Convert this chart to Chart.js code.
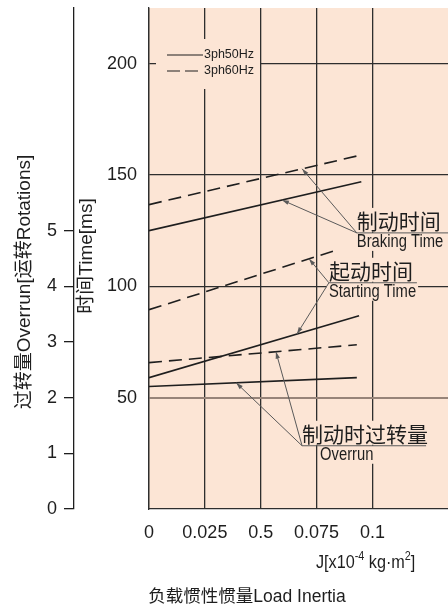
<!DOCTYPE html>
<html>
<head>
<meta charset="utf-8">
<script src="https://cdn.jsdelivr.net/npm/chart.js@4.4.1/dist/chart.umd.min.js"></script>
<style>
  html, body { margin: 0; padding: 0; background: #fff; }
  canvas { display: block; }
</style>
</head>
<body>
<canvas id="inertiaChart" width="448" height="605"></canvas>
<script>
// Load inertia J [x10^-4 kg·m²] and curve values
const brakingJ = [0, 0.095];
const braking50Hz = [125, 147];       // ms
const braking60Hz = [136.7, 159];     // ms
const starting50J = [0, 0.094];
const starting50Hz = [59, 86.8];      // ms
const starting60J = [0, 0.083];
const starting60Hz = [89.5, 116];     // ms
const overrunJ = [0, 0.093];
const overrun50Hz = [2.2, 2.36];      // rotations
const overrun60Hz = [2.63, 2.95];     // rotations

// Tick values and labels (the 0.05 tick is printed as "0.5" on the original)
const xTicks = [0, 0.025, 0.05, 0.075, 0.1];
const xTickLabels = ['0', '0.025', '0.5', '0.075', '0.1'];
const timeTicks = [50, 100, 150, 200];
const overrunTicks = [0, 1, 2, 3, 4, 5];

const INK = '#1e1e1e';
const GRID = '#2e2e2e';
const PEACH = '#fce5d5';
const LEADER = '#5a5a5a';
const SANS = '"Liberation Sans", Arial, "Noto Sans CJK SC", sans-serif';
const CJK = '"Noto Sans CJK SC", "Liberation Sans", sans-serif';

Chart.defaults.font.family = SANS;
Chart.defaults.color = INK;

const pts = (xs, ys) => xs.map((x, i) => ({ x: x, y: ys[i] }));

function series(label, xs, ys, axis, dashed) {
    return {
        label: label,
        data: pts(xs, ys),
        yAxisID: axis,
        borderColor: INK,
        borderWidth: 1.6,
        borderDash: dashed ? [13, 7] : [],
        pointRadius: 0,
        fill: false,
        tension: 0
    };
}

// Callouts: label anchor (J, ms) and the curves their leaders point at
const callouts = [
    { zh: '制动时间', en: 'Braking Time', at: [0.093, 124], rule: 92, enDx: 0,
      targets: [[brakingJ, braking60Hz, 'time', 0.0685], [brakingJ, braking50Hz, 'time', 0.0595]] },
    { zh: '起动时间', en: 'Starting Time', at: [0.0805, 101.6], rule: 88, enDx: 0,
      targets: [[starting60J, starting60Hz, 'time', 0.0716], [starting50J, starting50Hz, 'time', 0.0662]] },
    { zh: '制动时过转量', en: 'Overrun', at: [0.0685, 28.4], rule: 124, enDx: 18,
      targets: [[overrunJ, overrun60Hz, 'overrun', 0.0568], [overrunJ, overrun50Hz, 'overrun', 0.039]] }
];

function yOnSeries(xs, ys, j) {
    const t = (j - xs[0]) / (xs[1] - xs[0]);
    return ys[0] + t * (ys[1] - ys[0]);
}

function arrow(ctx, x0, y0, x1, y1) {
    ctx.beginPath();
    ctx.moveTo(x0, y0);
    ctx.lineTo(x1, y1);
    ctx.stroke();
    const a = Math.atan2(y1 - y0, x1 - x0), L = 7, W = 2.2;
    ctx.beginPath();
    ctx.moveTo(x1, y1);
    ctx.lineTo(x1 - L * Math.cos(a) + W * Math.sin(a), y1 - L * Math.sin(a) - W * Math.cos(a));
    ctx.lineTo(x1 - L * Math.cos(a) - W * Math.sin(a), y1 - L * Math.sin(a) + W * Math.cos(a));
    ctx.closePath();
    ctx.fill();
}

// text on a peach patch that hides the grid behind it; sx squeezes it horizontally
function maskedText(ctx, text, x, y, baseline, h, sx) {
    ctx.textBaseline = baseline;
    const w = ctx.measureText(text).width * sx;
    const top = baseline === 'bottom' ? y - h : y;
    ctx.fillStyle = PEACH;
    ctx.fillRect(x - 2, top, w + 4, h);
    ctx.fillStyle = INK;
    ctx.save();
    ctx.translate(x, y);
    ctx.scale(sx, 1);
    ctx.fillText(text, 0, 0);
    ctx.restore();
}

function rotatedText(ctx, text, x, y) {
    ctx.save();
    ctx.translate(x, y);
    ctx.rotate(-Math.PI / 2);
    ctx.textAlign = 'center';
    ctx.textBaseline = 'middle';
    ctx.fillText(text, 0, 0);
    ctx.restore();
}

const plotBackground = {
    id: 'plotBackground',
    beforeDraw(chart) {
        const { ctx, chartArea: a } = chart;
        ctx.save();
        ctx.fillStyle = PEACH;
        ctx.fillRect(a.left, a.top, a.right - a.left, a.bottom - a.top);
        ctx.restore();
    }
};

const decorations = {
    id: 'decorations',
    afterDraw(chart) {
        const { ctx, chartArea: a, scales } = chart;
        ctx.save();

        // legend box inside the plot
        const lx = a.left + 7, ly = a.top + 31;
        ctx.fillStyle = PEACH;
        ctx.fillRect(lx, ly, 104, 50);
        ctx.strokeStyle = INK;
        ctx.lineWidth = 1.2;
        ctx.beginPath();
        ctx.moveTo(lx + 11, ly + 16);
        ctx.lineTo(lx + 47, ly + 16);
        ctx.stroke();
        ctx.setLineDash([13, 5]);
        ctx.beginPath();
        ctx.moveTo(lx + 11, ly + 32);
        ctx.lineTo(lx + 47, ly + 32);
        ctx.stroke();
        ctx.setLineDash([]);
        ctx.fillStyle = INK;
        ctx.font = '12.5px ' + SANS;
        ctx.textAlign = 'left';
        ctx.textBaseline = 'middle';
        ctx.fillText('3ph50Hz', lx + 48, ly + 16);
        ctx.fillText('3ph60Hz', lx + 48, ly + 32);

        // callouts with leader arrows
        callouts.forEach(c => {
            const ax = scales.x.getPixelForValue(c.at[0]);
            const ay = scales.time.getPixelForValue(c.at[1]);
            ctx.textAlign = 'left';
            ctx.font = '21px ' + CJK;
            maskedText(ctx, c.zh, ax, ay - 1, 'bottom', 24, 1);
            ctx.font = '18px ' + SANS;
            maskedText(ctx, c.en, ax + c.enDx, ay, 'top', 18, 0.82);
            ctx.strokeStyle = LEADER;
            ctx.lineWidth = 1;
            ctx.beginPath();
            ctx.moveTo(ax, ay);
            ctx.lineTo(ax + c.rule, ay);
            ctx.stroke();
            ctx.fillStyle = LEADER;
            c.targets.forEach(t => {
                const tx = scales.x.getPixelForValue(t[3]);
                const ty = scales[t[2]].getPixelForValue(yOnSeries(t[0], t[1], t[3]));
                arrow(ctx, ax, ay, tx, ty);
            });
        });

        // axis titles
        ctx.fillStyle = INK;
        ctx.font = '19px ' + SANS;
        rotatedText(ctx, '过转量Overrun[运转Rotations]', 25, 282);
        rotatedText(ctx, '时间Time[ms]', 87, 256);

        // x axis unit with superscripts
        ctx.textAlign = 'left';
        ctx.textBaseline = 'alphabetic';
        let x = 316;
        const base = 568;
        const parts = [['J[x10', 18, 0], ['-4', 12, -8], [' kg·m', 18, 0], ['2', 12, -8], [']', 18, 0]];
        parts.forEach(p => {
            ctx.font = p[1] + 'px ' + SANS;
            ctx.save();
            ctx.translate(x, base + p[2]);
            ctx.scale(0.9, 1);
            ctx.fillText(p[0], 0, 0);
            ctx.restore();
            x += ctx.measureText(p[0]).width * 0.9;
        });

        ctx.font = '17.5px ' + SANS;
        ctx.textAlign = 'center';
        ctx.textBaseline = 'middle';
        ctx.fillText('负载惯性惯量Load Inertia', 247, 597);
        ctx.restore();
    }
};

const ctx = document.getElementById('inertiaChart').getContext('2d');
new Chart(ctx, {
    type: 'line',
    data: {
        datasets: [
            series('Braking 3ph50Hz', brakingJ, braking50Hz, 'time', false),
            series('Braking 3ph60Hz', brakingJ, braking60Hz, 'time', true),
            series('Starting 3ph50Hz', starting50J, starting50Hz, 'time', false),
            series('Starting 3ph60Hz', starting60J, starting60Hz, 'time', true),
            series('Overrun 3ph50Hz', overrunJ, overrun50Hz, 'overrun', false),
            series('Overrun 3ph60Hz', overrunJ, overrun60Hz, 'overrun', true)
        ]
    },
    options: {
        responsive: false,
        animation: false,
        layout: { padding: { top: 8, right: 0, bottom: 0, left: 0 } },
        plugins: { legend: { display: false }, tooltip: { enabled: false } },
        scales: {
            x: {
                type: 'linear',
                min: 0,
                max: 0.1338,
                afterBuildTicks: s => { s.ticks = xTicks.map(v => ({ value: v })); },
                afterFit: s => { s.height = 96; s.paddingLeft = 0; s.paddingRight = 0; },
                ticks: {
                    callback: v => xTickLabels[xTicks.indexOf(v)],
                    font: { size: 18 },
                    color: INK,
                    padding: 13,
                    maxRotation: 0,
                    autoSkip: false
                },
                grid: { color: GRID, lineWidth: 1.3, drawTicks: false },
                border: { color: GRID, width: 1.3 }
            },
            time: {
                position: 'left',
                weight: 0,
                min: 0,
                max: 225,
                afterBuildTicks: s => { s.ticks = timeTicks.map(v => ({ value: v })); },
                afterFit: s => { s.width = 75; s.paddingTop = 0; s.paddingBottom = 0; },
                ticks: { font: { size: 18 }, color: INK, padding: 12 },
                grid: {
                    color: c => (c.tick && c.tick.value === 50 ? '#978479' : GRID),
                    lineWidth: c => (c.tick && c.tick.value === 50 ? 2 : 1.3),
                    drawTicks: false
                },
                border: { color: GRID, width: 1.3 }
            },
            overrun: {
                position: 'left',
                weight: 1,
                min: 0,
                max: 9,
                afterBuildTicks: s => { s.ticks = overrunTicks.map(v => ({ value: v })); },
                afterFit: s => { s.width = 74; s.paddingTop = 0; s.paddingBottom = 0; },
                ticks: { font: { size: 18 }, color: INK, padding: 7 },
                grid: { drawOnChartArea: false, drawTicks: true, tickLength: 10, color: INK, lineWidth: 1.3 },
                border: { color: INK, width: 1.3 }
            }
        }
    },
    plugins: [plotBackground, decorations]
});
</script>
</body>
</html>
